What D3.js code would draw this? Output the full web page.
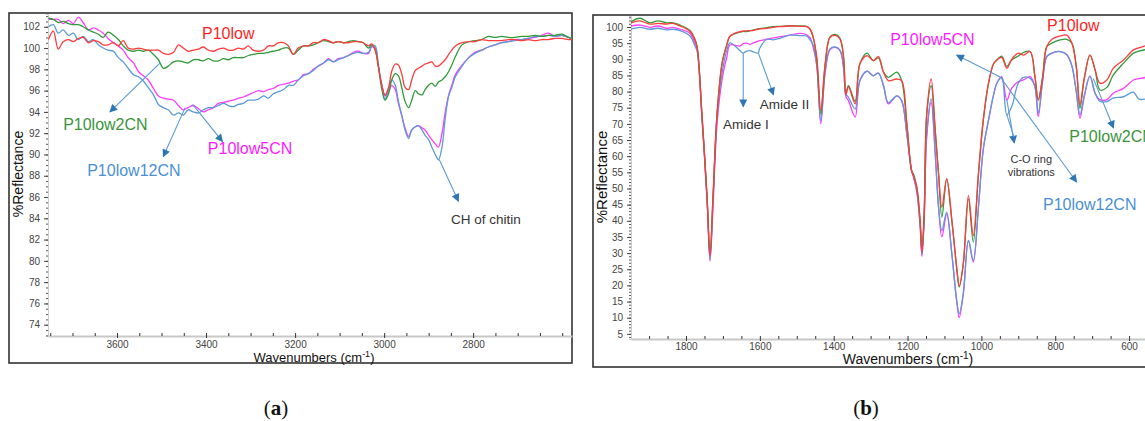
<!doctype html>
<html lang="en">
<head>
<meta charset="utf-8">
<title>FTIR reflectance spectra</title>
<style>
  body { margin: 0; background: #fff; overflow: hidden; }
  svg { display: block; font-family: "Liberation Sans", Arial, sans-serif; }
  .tick text { font-size: 10px; fill: #444; }
  .series { fill: none; stroke-width: 1.3; stroke-linejoin: round; }
  .series-label { font-size: 16px; }
  .note { font-size: 13.5px; fill: #333; }
  .axis-title { font-size: 13px; fill: #111; }
</style>
</head>
<body>
<svg id="chart" width="1145" height="421"></svg>
<script src="https://cdn.jsdelivr.net/npm/d3@7"></script>
<script>

// ---- panel (a): 3750-2580 cm-1 ----
var aWavenumbers = [3754,3743,3732,3721,3709,3698,3687,3676,3664,3653,3642,3631,3620,3608,3597,3586,3575,3563,3552,3541,3530,3518,3507,3496,3485,3473,3462,3451,3440,3429,3417,3406,3395,3384,3372,3361,3350,3339,3327,3316,3305,3294,3282,3271,3260,3249,3237,3226,3215,3204,3193,
  3181,3170,3159,3148,3136,3125,3114,3103,3091,3080,3069,3058,3047,3035,
  3028,3020,3013,3005,2998,2990,2983,2975,2968,2960,2953,2945,2938,2930,2923,2915,2908,2900,2893,2885,2878,2870,2863,2855,2848,2840,
  2825,2810,2796,2781,2766,2751,2736,2721,2706,2691,2676,2661,2646,2631,2616,2601,2586,2578];

var aP10low = [100.8,101.6,99.9,100.6,100.8,100.6,100.9,101.0,100.5,100.7,100.6,100.3,100.3,100.5,100.2,100.7,100.0,99.9,100.0,99.9,99.8,99.8,99.8,99.5,99.4,99.6,100.3,100.0,99.7,99.8,99.9,100.1,99.8,99.7,99.9,100.0,99.8,99.8,100.0,99.9,100.2,99.8,99.7,99.8,100.2,100.2,100.5,100.5,100.2,99.4,100.0,
  100.2,100.2,100.5,100.5,100.8,100.7,100.5,100.6,100.5,100.5,100.6,100.6,100.5,100.2,
  100.4,99.8,98.3,96.4,95.6,96.3,97.8,98.5,98.4,97.5,96.3,96.1,97.0,97.9,98.1,98.3,98.5,98.6,98.7,98.3,98.3,98.6,98.9,99.4,99.8,100.2,
  100.5,100.6,100.6,100.8,100.7,100.7,100.7,100.8,100.8,100.7,100.8,100.7,100.8,100.8,100.9,100.9,100.8,100.8];

var aP10low2CN = [102.8,102.7,102.4,102.5,102.3,102.2,102.2,102.0,101.7,101.5,101.3,101.0,101.5,101.2,100.8,100.2,99.8,99.7,99.8,99.7,99.8,99.4,98.9,98.1,98.3,98.7,98.8,98.7,98.6,98.9,98.9,98.8,99.0,98.8,98.8,99.0,98.9,99.1,99.1,99.1,99.3,99.4,99.5,99.5,99.6,99.7,99.8,100.0,100.0,99.4,99.8,
  100.2,100.2,100.3,100.5,100.7,100.6,100.5,100.6,100.5,100.6,100.7,100.6,100.5,100.0,
  100.3,99.8,98.3,96.1,95.1,95.7,97.0,97.6,97.4,96.2,95.0,94.4,95.1,96.0,95.7,95.6,96.1,96.5,96.7,96.4,96.8,97.0,97.3,97.8,98.4,99.2,
  100.3,100.6,100.7,100.8,101.1,101.0,101.1,101.0,101.0,101.1,101.1,101.2,101.1,101.2,101.2,101.3,101.0,100.9];

var aP10low5CN = [102.7,102.7,102.7,102.3,102.6,102.3,102.9,102.4,101.7,101.9,101.7,101.4,100.9,100.5,100.2,99.8,99.1,98.6,97.8,97.4,97.0,96.2,95.5,95.3,95.2,95.1,94.6,94.2,94.4,94.6,94.3,94.0,94.2,94.4,94.8,94.9,95.0,95.1,95.3,95.4,95.6,95.8,96.0,95.9,96.1,96.2,96.5,96.6,96.7,96.9,97.0,
  97.5,97.6,98.0,98.3,98.6,99.0,98.7,99.0,99.1,99.3,99.6,99.7,99.5,99.5,
  100.1,100.0,98.3,96.5,95.5,95.9,96.5,96.1,94.8,93.6,92.5,91.7,92.3,92.6,92.7,92.5,92.3,91.8,91.4,91.0,90.7,92.0,93.9,95.6,96.5,97.5,
  98.4,99.1,99.6,99.8,100.1,100.3,100.5,100.6,100.8,100.8,100.9,101.0,101.2,101.4,101.1,101.2,101.0,100.9];

var aP10low12CN = [102.0,102.2,101.4,101.7,101.2,101.4,100.8,101.1,100.6,100.8,100.3,100.0,99.8,99.7,99.1,98.7,98.1,97.5,97.3,96.9,96.3,95.6,94.7,94.4,94.2,93.7,93.9,93.7,94.2,94.0,93.9,94.2,94.4,94.4,94.6,94.8,94.6,94.5,94.7,94.8,95.1,95.1,95.2,95.5,95.3,95.7,95.9,96.1,96.5,96.5,97.0,
  97.4,97.6,97.9,98.3,98.6,98.9,98.7,98.9,99.1,99.3,99.5,99.6,99.5,99.6,
  100.2,100.2,98.3,96.5,95.2,96.1,97.0,96.5,95.0,93.6,92.3,91.5,92.3,92.6,92.7,92.3,91.8,91.4,90.7,90.0,89.5,90.7,93.3,95.5,96.3,97.3,
  98.3,99.1,99.5,99.8,100.1,100.3,100.5,100.6,100.7,100.8,100.9,101.1,101.1,101.2,101.1,101.2,101.0,100.9];

var aXTicks = [3600, 3400, 3200, 3000, 2800];
var aYTicks = [102,100,98,96,94,92,90,88,86,84,82,80,78,76,74];

// ---- panel (b): 1950-550 cm-1 ----
var bWavenumbers = [1949,1925,1898,1876,1852,1835,1816,1789,1776,1770,
  1757,1743,1735,1727,1716,1702,1689,1681,1654,1646,
  1636,1627,1619,1605,1600,1581,1564,1545,1518,1491,
  1473,1464,1456,1446,1435,1423,1410,1396,1383,1373,
  1367,1360,1342,1329,1310,1293,1279,1265,1252,1229,
  1216,1202,1189,1184,1175,1166,1161,1155,1148,1136,
  1125,1116,1107,1094,1080,1067,1060,1049,1035,1022,
  1008,995,981,967,958,945,931,918,900,886,
  868,855,846,834,823,809,787,769,755,743,
  733,722,706,692,679,660,643,615,588,574,
  555];

var bP10low = [101.3,101.9,100.9,101.1,100.9,101.1,100.3,98.6,96.0,93.8,
  73,47,29,47,73,89,94.7,97.2,98.6,98.7,
  98.8,98.9,98.9,99.3,99.4,99.6,99.9,100.1,100.3,100.2,
  100.1,99.3,97,90.8,74.1,88.6,96.8,97.4,96.3,90,
  79,81.5,76.2,88.6,91.1,89.6,90.8,86,83.4,83.9,
  83.4,70,55.5,54,50.4,40.1,30.3,42.1,73.1,83.9,
  67.9,54.5,44.2,53,40.1,25.6,19.8,26.7,47.8,35.4,
  54.5,71,82.4,88.6,89.8,90.6,87.2,90,91.9,91.3,
  92.4,84.6,77.4,84.6,93.9,96.2,97.2,97.5,95,87.7,
  75.9,83.6,91.3,86.7,82.6,83.6,87.2,89.8,92.9,93.5,
  94.2];

var bP10low2CN = [101.6,102.7,101.3,101.9,101.3,101.3,100.6,98.9,96.3,94.0,
  73,47,29.5,47,73,89,94.7,97.0,98.4,98.6,
  98.6,98.8,99.0,99.4,99.5,99.8,100.1,100.2,100.4,100.3,
  100.2,99.3,97,90,73.1,88.6,96.9,97.7,96.5,90.5,
  79.5,81.8,77,88.6,91.9,89.6,90.4,86,84.4,86,
  83.4,70,55.5,54.5,50.4,40.1,30.3,42.1,73.1,81.8,
  67.9,54.5,41.1,53,40.1,25.6,19.5,26.7,46.8,33.4,
  54.5,71,82.4,88.6,89.8,91.0,87.8,89.8,91,92.1,
  92.4,84.6,77.4,84.6,93.9,95,96.0,96.2,95,87.7,
  74.8,83.6,91.3,86.7,80.5,81.3,85.1,88.8,91.9,92.5,
  93];

var bP10low5CN = [100.3,100.6,99.9,100.3,99.6,99.9,99.3,98.0,95.0,93.3,
  73,47.5,27.5,44,70,84,91,94.4,94.1,94.8,
  95.0,94.6,95.0,95.6,95.8,96.2,96.6,97.0,97.5,98.0,
  97.6,96.6,93.9,88,70,86,93.0,93.7,92.7,87,
  78.5,77.2,72.1,83.4,86.3,84.9,85.7,81.8,76.2,78.7,
  77.2,66.9,55.5,53.5,49,38.5,28.9,40,66,76.7,
  60.7,44.2,35,42.1,29.7,15.3,10,17.4,33.9,27.2,
  44.2,62,71,79,82.6,84.6,77.4,81.0,83.1,83.6,
  84.6,81.5,72.3,83.6,90.8,91.9,92.4,91.5,88,80,
  71.8,78,84.8,79.5,77.5,77.5,79.5,81,83.6,84,
  84.4];

var bP10low12CN = [99.3,99.9,99.3,99.6,99.1,99.3,98.9,97.2,94.2,92.5,
  72,46.5,28,46,72,86,93,95.1,92.7,91.9,
  92.5,92.7,92.4,91.9,93.5,96.2,96.0,96.5,97.5,97.3,
  97.2,96.0,94.5,88.5,71,86.5,93.2,93.8,92.8,87.5,
  79.2,78.2,74.6,83.4,86.3,84.9,85.7,81.8,76.6,78.7,
  77.2,66.9,55.5,54,49.5,39,29.5,41,67,77.7,
  60.7,44.2,37,42.7,29.7,15.3,11.2,17.4,33.9,27.7,
  44.2,62,71,79,82.6,84.4,72.8,75.3,82.6,84.4,
  84.1,81.5,73.3,83.6,90.8,91.9,92.4,91.5,88,80,
  72.8,78.5,84.8,79.5,77,76.9,78,78.4,79.8,77.7,
  77.7];

var bXTicks = [1800, 1600, 1400, 1200, 1000, 800, 600];
var bYTicks = [100,95,90,85,80,75,70,65,60,55,50,45,40,35,30,25,20,15,10,5];

// colours of the four samples
var colors = { P10low: "#ff3b3b", P10low2CN: "#2f9a3a", P10low5CN: "#ff3dff", P10low12CN: "#5b9bd5" };
var labelColors = { P10low: "#ff1f1f", P10low2CN: "#3a953a", P10low5CN: "#ff1aff", P10low12CN: "#4a8fd6" };

// annotations in data coordinates [wavenumber, %R]
var aLabels = [
  { text: "P10low", key: "P10low", at: [3409, 101.4] },
  { text: "P10low2CN", key: "P10low2CN", at: [3721, 92.8] },
  { text: "P10low5CN", key: "P10low5CN", at: [3396, 90.6] },
  { text: "P10low12CN", key: "P10low12CN", at: [3667, 88.5] }
];
var aNotes = [ { lines: ["CH of chitin"], at: [2850, 83.9], anchor: "start", size: 13.5 } ];
var aArrows = [
  { from: [3503, 98.6], to: [3616, 94.0] },
  { from: [3447, 94.4], to: [3496, 89.8] },
  { from: [3430, 94.7], to: [3363, 91.2] },
  { from: [2876, 89.5], to: [2833, 85.6] }
];

var bLabels = [
  { text: "P10low", key: "P10low", at: [822, 100.6] },
  { text: "P10low5CN", key: "P10low5CN", at: [1247, 96.3] },
  { text: "P10low2CN", key: "P10low2CN", at: [762, 66] },
  { text: "P10low12CN", key: "P10low12CN", at: [833, 45.2] }
];
var bNotes = [
  { lines: ["Amide I"], at: [1700, 70], anchor: "start", size: 13.5 },
  { lines: ["Amide II"], at: [1600, 76.2], anchor: "start", size: 13.5 },
  { lines: ["C-O ring", "vibrations"], at: [865, 59.2], anchor: "middle", size: 11 }
];
var bArrows = [
  { from: [1645, 91.9], to: [1645, 75.3] },
  { from: [1604, 91.9], to: [1563, 79.0] },
  { from: [931, 77.4], to: [911, 64.1] },
  { from: [931, 72.8], to: [912, 66], head: false },
  { from: [949, 84.5], to: [1067, 91.3] },
  { from: [949, 84.5], to: [742, 52.0] },
  { from: [697, 84.1], to: [642, 68.7] }
];

var svg = d3.select("#chart");

var defs = svg.append("defs");
defs.append("marker")
    .attr("id", "arrowhead")
    .attr("viewBox", "0 0 10 10")
    .attr("refX", 9).attr("refY", 5)
    .attr("markerWidth", 9).attr("markerHeight", 8)
    .attr("markerUnits", "userSpaceOnUse")
    .attr("orient", "auto")
  .append("path")
    .attr("d", "M0,0 L10,5 L0,10 z")
    .attr("fill", "#2e75b6");

function pairs(wn, vals) {
  return wn.map(function(w, i) { return [w, vals[i]]; })
           .filter(function(d) { return d[1] != null; });
}

function drawPanel(p) {
  var x = d3.scaleLinear().domain(p.xDomain).range([p.left, p.right]);
  var y = d3.scaleLinear().domain(p.yDomain).range([p.bottom, p.top]);
  var g = svg.append("g");

  defs.append("clipPath").attr("id", "clip-" + p.id)
    .append("rect")
    .attr("x", p.left).attr("y", p.top)
    .attr("width", p.right - p.left).attr("height", p.bottom - p.top);

  // outer frame
  g.append("rect")
    .attr("x", p.frame[0]).attr("y", p.frame[1])
    .attr("width", p.frame[2]).attr("height", p.frame[3])
    .attr("fill", "none").attr("stroke", "#333").attr("stroke-width", 1.6);

  // y axis: dense minor ticks give the dotted look
  var yMinor = d3.range(Math.ceil(p.yDomain[0] / p.yMinor) * p.yMinor, p.yDomain[1], p.yMinor);
  g.append("g")
    .attr("transform", "translate(" + p.left + ",0)")
    .call(d3.axisLeft(y).tickValues(yMinor).tickSize(2).tickFormat(""))
    .call(function(a) { a.select(".domain").attr("stroke", "#ccc"); })
    .selectAll(".tick line").attr("stroke", "#555");
  g.append("g")
    .attr("transform", "translate(" + p.left + ",0)")
    .call(d3.axisLeft(y).tickValues(p.yTicks).tickSize(4).tickPadding(4).tickFormat(d3.format("d")))
    .call(function(a) { a.select(".domain").remove(); })
    .selectAll(".tick line").attr("stroke", "#444");

  // x axis: light grey base line with small ticks every 50 cm-1
  var xMinor = d3.range(Math.floor(p.xDomain[0] / 50) * 50, p.xDomain[1], -50);
  g.append("g")
    .attr("transform", "translate(0," + p.bottom + ")")
    .call(d3.axisBottom(x).tickValues(xMinor).tickSizeInner(-3).tickSizeOuter(0).tickFormat(""))
    .call(function(a) {
      a.select(".domain").attr("stroke", "#c8c8c8").attr("stroke-width", 2.2);
      a.selectAll(".tick line").attr("stroke", "#333");
    });
  g.append("g")
    .attr("transform", "translate(0," + p.bottom + ")")
    .call(d3.axisBottom(x).tickValues(p.xTicks).tickSize(2).tickPadding(p.xPad).tickFormat(d3.format("d")))
    .call(function(a) {
      a.select(".domain").remove();
      a.selectAll(".tick line").attr("stroke", "#333");
    });

  // axis titles
  var xt = g.append("text").attr("class", "axis-title")
    .attr("x", p.xTitle[0]).attr("y", p.xTitle[1])
    .attr("text-anchor", "middle")
    .style("font-size", p.titleSize + "px");
  xt.append("tspan").text("Wavenumbers (cm");
  xt.append("tspan").attr("dy", -5).style("font-size", (p.titleSize - 4) + "px").text("-1");
  xt.append("tspan").attr("dy", 5).text(")");

  g.append("text").attr("class", "axis-title")
    .attr("transform", "translate(" + p.yTitle[0] + "," + p.yTitle[1] + ") rotate(-90)")
    .attr("text-anchor", "middle").attr("dy", "0.35em")
    .style("font-size", (p.titleSize + 1) + "px")
    .text("%Reflectance");

  // spectra
  var line = d3.line()
    .x(function(d) { return x(d[0]); })
    .y(function(d) { return y(d[1]); })
    .curve(d3.curveCatmullRom.alpha(0.5));

  var plot = g.append("g").attr("clip-path", "url(#clip-" + p.id + ")");
  plot.selectAll("path.series")
    .data(p.series)
    .enter().append("path")
    .attr("class", "series")
    .attr("stroke", function(s) { return colors[s.key]; })
    .attr("d", function(s) { return line(pairs(p.wn, s.values)); });

  // arrows
  g.selectAll("line.arrow")
    .data(p.arrows)
    .enter().append("line")
    .attr("class", "arrow")
    .attr("x1", function(d) { return x(d.from[0]); })
    .attr("y1", function(d) { return y(d.from[1]); })
    .attr("x2", function(d) { return x(d.to[0]); })
    .attr("y2", function(d) { return y(d.to[1]); })
    .attr("stroke", "#5b9bd5").attr("stroke-width", 1.1)
    .attr("marker-end", function(d) { return d.head === false ? null : "url(#arrowhead)"; });

  // sample labels
  g.selectAll("text.series-label")
    .data(p.labels)
    .enter().append("text")
    .attr("class", "series-label")
    .attr("x", function(d) { return x(d.at[0]); })
    .attr("y", function(d) { return y(d.at[1]); })
    .attr("dy", "0.35em")
    .attr("fill", function(d) { return labelColors[d.key]; })
    .text(function(d) { return d.text; });

  // notes
  p.notes.forEach(function(n) {
    var t = g.append("text").attr("class", "note")
      .attr("x", x(n.at[0])).attr("y", y(n.at[1]))
      .attr("text-anchor", n.anchor)
      .style("font-size", n.size + "px");
    n.lines.forEach(function(l, i) {
      t.append("tspan").attr("x", x(n.at[0])).attr("dy", i === 0 ? "0.35em" : "1.25em").text(l);
    });
  });

  // caption
  var cap = svg.append("text")
    .attr("x", p.caption[0]).attr("y", p.caption[1])
    .attr("text-anchor", "middle")
    .style("font-family", "'Liberation Serif', 'Times New Roman', serif")
    .style("font-size", "21px").attr("fill", "#111");
  cap.append("tspan").text("(");
  cap.append("tspan").style("font-weight", "bold").text(p.id);
  cap.append("tspan").text(")");
}

drawPanel({
  id: "a",
  frame: [9, 13, 563, 350],
  left: 48, right: 572, top: 14, bottom: 336,
  xDomain: [3755, 2578], yDomain: [72.94, 103.2],
  xTicks: aXTicks, yTicks: aYTicks, yMinor: 0.5, xPad: 3,
  xTitle: [314, 361.5], yTitle: [18, 174], titleSize: 13,
  caption: [276, 415],
  wn: aWavenumbers,
  series: [
    { key: "P10low5CN", values: aP10low5CN },
    { key: "P10low12CN", values: aP10low12CN },
    { key: "P10low2CN", values: aP10low2CN },
    { key: "P10low", values: aP10low }
  ],
  labels: aLabels, notes: aNotes, arrows: aArrows
});

drawPanel({
  id: "b",
  frame: [593, 15, 620, 352],
  left: 631, right: 1166, top: 16, bottom: 339,
  xDomain: [1949, 500], yDomain: [3.4, 103.4],
  xTicks: bXTicks, yTicks: bYTicks, yMinor: 1, xPad: 2,
  xTitle: [908, 364], yTitle: [602, 177], titleSize: 14,
  caption: [866, 415],
  wn: bWavenumbers,
  series: [
    { key: "P10low5CN", values: bP10low5CN },
    { key: "P10low12CN", values: bP10low12CN },
    { key: "P10low2CN", values: bP10low2CN },
    { key: "P10low", values: bP10low }
  ],
  labels: bLabels, notes: bNotes, arrows: bArrows
});

</script>
</body>
</html>
